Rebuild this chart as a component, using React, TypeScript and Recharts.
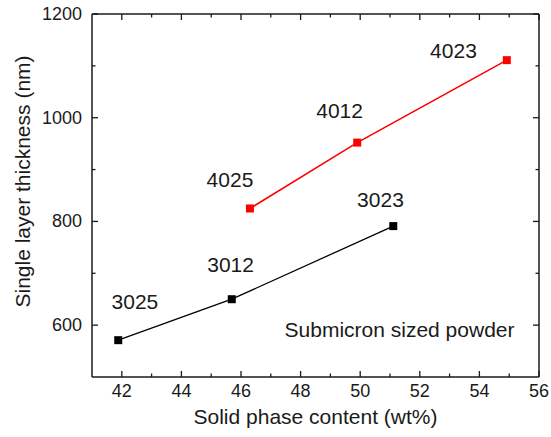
import React from "react";
import {
  LineChart,
  Line,
  XAxis,
  YAxis,
  ReferenceDot,
} from "recharts";

// values
const submicron3000X = [41.88, 45.69, 51.11];
const submicron3000Y = [571, 650, 791];
const submicron4000X = [46.3, 49.9, 54.92];
const submicron4000Y = [825, 952, 1111];

const sampleNames = ["3025", "3012", "3023", "4025", "4012", "4023"];
const sampleLabelX = [42.44, 45.65, 50.68, 45.63, 49.31, 53.13];
const sampleLabelY = [646, 717, 842, 881, 1014, 1130];

const xMajorTicks = [42, 44, 46, 48, 50, 52, 54, 56];
const xAllTicks = [42, 43, 44, 45, 46, 47, 48, 49, 50, 51, 52, 53, 54, 55, 56];
const yMajorTicks = [600, 800, 1000, 1200];
const yAllTicks = [600, 700, 800, 900, 1000, 1100, 1200];

const blackData = submicron3000X.map((x, i) => ({ x, y: submicron3000Y[i] }));
const redData = submicron4000X.map((x, i) => ({ x, y: submicron4000Y[i] }));

const FONT = '"Liberation Sans", Arial, sans-serif';
const INK = "#1a1a1a";
const MAJOR = 6;
const MINOR = 3.5;

const BottomTick = (props: any) => {
  const { x, y, payload } = props;
  const major = xMajorTicks.includes(payload.value);
  return (
    <g>
      <line x1={x} x2={x} y1={y} y2={y - (major ? MAJOR : MINOR)} stroke={INK} strokeWidth={1.3} />
      {major && (
        <text x={x} y={y + 20} textAnchor="middle" fontSize={18} fontFamily={FONT} fill={INK}>
          {payload.value}
        </text>
      )}
    </g>
  );
};

// top axis has height 1, so its line sits 1px above the plot edge
const TopTick = (props: any) => {
  const { x, y, payload } = props;
  const major = xMajorTicks.includes(payload.value);
  return <line x1={x} x2={x} y1={y} y2={y + (major ? MAJOR : MINOR)} stroke={INK} strokeWidth={1.3} />;
};

const LeftTick = (props: any) => {
  const { x, y, payload } = props;
  const major = yMajorTicks.includes(payload.value);
  return (
    <g>
      <line x1={x} x2={x + (major ? MAJOR : MINOR)} y1={y} y2={y} stroke={INK} strokeWidth={1.3} />
      {major && (
        <text x={x - 10} y={y + 6} textAnchor="end" fontSize={18} fontFamily={FONT} fill={INK}>
          {payload.value}
        </text>
      )}
    </g>
  );
};

const RightTick = (props: any) => {
  const { x, y, payload } = props;
  const major = yMajorTicks.includes(payload.value);
  return <line x1={x} x2={x - (major ? MAJOR : MINOR)} y1={y} y2={y} stroke={INK} strokeWidth={1.3} />;
};

const squareDot = (color: string) => (props: any) => {
  const { cx, cy, key } = props;
  return <rect key={key} x={cx - 4} y={cy - 4} width={8} height={8} fill={color} />;
};

export default function App() {
  return (
    <div style={{ position: "absolute", left: 0, top: 0, background: "#fff" }}>
      <LineChart
        width={551}
        height={437}
        margin={{ top: 13, right: 11, bottom: 0, left: 12 }}
      >
        <XAxis
          dataKey="x"
          type="number"
          domain={[41, 56]}
          ticks={xAllTicks}
          interval={0}
          allowDataOverflow
          height={60}
          tickSize={0}
          tickMargin={0}
          tick={<BottomTick />}
          axisLine={{ stroke: INK, strokeWidth: 1.5 }}
          label={{
            content: (p: any) => {
              const vb = p.viewBox;
              return (
                <text x={vb.x + vb.width / 2} y={vb.y + 47} textAnchor="middle" fontSize={21} fontFamily={FONT} fill={INK}>
                  Solid phase content (wt%)
                </text>
              );
            },
          }}
        />
        <XAxis
          xAxisId="top"
          orientation="top"
          dataKey="x"
          type="number"
          domain={[41, 56]}
          ticks={xAllTicks}
          interval={0}
          allowDataOverflow
          height={1}
          tickSize={0}
          tickMargin={0}
          tick={<TopTick />}
          axisLine={{ stroke: INK, strokeWidth: 1.5 }}
        />
        <YAxis
          type="number"
          domain={[500, 1200]}
          ticks={yAllTicks}
          interval={0}
          allowDataOverflow
          width={80}
          tickSize={0}
          tickMargin={0}
          tick={<LeftTick />}
          axisLine={{ stroke: INK, strokeWidth: 1.5 }}
          label={{
            content: (p: any) => {
              const vb = p.viewBox;
              const cx = vb.x + 10;
              const cy = vb.y + vb.height / 2 - 14;
              return (
                <text
                  x={cx}
                  y={cy}
                  transform={`rotate(-90 ${cx} ${cy})`}
                  textAnchor="middle"
                  dominantBaseline="central"
                  fontSize={21}
                  fontFamily={FONT}
                  fill={INK}
                >
                  Single layer thickness (nm)
                </text>
              );
            },
          }}
        />
        <YAxis
          yAxisId="right"
          orientation="right"
          type="number"
          domain={[500, 1200]}
          ticks={yAllTicks}
          interval={0}
          allowDataOverflow
          width={1}
          tickSize={0}
          tickMargin={0}
          tick={<RightTick />}
          axisLine={{ stroke: INK, strokeWidth: 1.5 }}
        />
        {/* invisible copy so the mirrored top/right axes get drawn */}
        <Line
          xAxisId="top"
          yAxisId="right"
          data={redData}
          dataKey="y"
          stroke="none"
          dot={false}
          activeDot={false}
          isAnimationActive={false}
        />
        <Line
          data={blackData}
          dataKey="y"
          stroke="#000000"
          strokeWidth={1.3}
          dot={squareDot("#000000")}
          activeDot={false}
          isAnimationActive={false}
        />
        <Line
          data={redData}
          dataKey="y"
          stroke="#ff0000"
          strokeWidth={1.6}
          dot={squareDot("#ff0000")}
          activeDot={false}
          isAnimationActive={false}
        />
        {sampleNames.map((name, i) => (
          <ReferenceDot
            key={name}
            x={sampleLabelX[i]}
            y={sampleLabelY[i]}
            r={1}
            fill="none"
            stroke="none"
            ifOverflow="visible"
            label={{ value: name, position: "center", fontSize: 21, fontFamily: FONT, fill: INK }}
          />
        ))}
        <ReferenceDot
          x={51.32}
          y={591}
          r={1}
          fill="none"
          stroke="none"
          ifOverflow="visible"
          label={{ value: "Submicron sized powder", position: "center", fontSize: 21, fontFamily: FONT, fill: INK }}
        />
      </LineChart>
    </div>
  );
}
